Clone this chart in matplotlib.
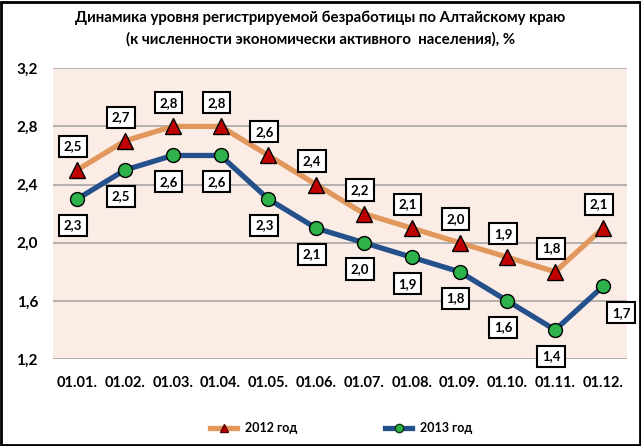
import numpy as np
import matplotlib
matplotlib.use('Agg')
import matplotlib.pyplot as plt
from matplotlib.patches import Rectangle
from matplotlib.lines import Line2D

plt.rcParams['font.family'] = ['Lato', 'Noto Sans', 'DejaVu Sans']

months = ['01.01.', '01.02.', '01.03.', '01.04.', '01.05.', '01.06.',
          '01.07.', '01.08.', '01.09.', '01.10.', '01.11.', '01.12.']
y2012 = [2.5, 2.7, 2.8, 2.8, 2.6, 2.4, 2.2, 2.1, 2.0, 1.9, 1.8, 2.1]
y2013 = [2.3, 2.5, 2.6, 2.6, 2.3, 2.1, 2.0, 1.9, 1.8, 1.6, 1.4, 1.7]
yticks = [1.2, 1.6, 2.0, 2.4, 2.8, 3.2]
title = ('Динамика уровня регистрируемой безработицы по Алтайскому краю\n'
         '(к численности экономически активного  населения), %')


def fmt(v):
    return f'{v:.1f}'.replace('.', ',')


fig = plt.figure(figsize=(6.41, 4.46), dpi=100)
ax = fig.add_axes([0.083, 0.195, 0.895, 0.652])
ax.set_facecolor('#FBEDE6')

x = np.arange(len(months))
series = [
    (y2012, '#E2975C', '^', 11, '#C00000', '2012 год', 17),
    (y2013, '#24508C', 'o', 10, '#2DB34A', '2013 год', -19),
]
for ys, lc, mk, ms, mc, lab, dy in series:
    ax.plot(x, ys, color=lc, lw=3.8, solid_joinstyle='round', solid_capstyle='round',
            marker=mk, ms=ms, mfc=mc, mec='black', mew=1.0, zorder=3)
    for i, v in enumerate(ys):
        ox, oy = -3, dy
        if lab == '2013 год' and i == len(ys) - 1:
            ox, oy = 13, -19
        ax.annotate(fmt(v), (i, v), xytext=(ox, oy), textcoords='offset points',
                    ha='center', va='center', fontsize=9.5, fontweight='bold',
                    bbox=dict(boxstyle='square,pad=0.35', fc='white', ec='black', lw=1.5),
                    zorder=5)

ax.set_xlim(-0.5, len(months) - 0.5)
ax.set_ylim(1.2, 3.2)
ax.set_yticks(yticks)
ax.set_yticklabels([fmt(v) for v in yticks], fontsize=11, fontweight='bold')
ax.set_xticks(x)
ax.set_xticklabels(months, fontsize=10.5, fontweight='bold')
ax.tick_params(length=0, pad=12)
ax.tick_params(axis='y', pad=11)
ax.grid(axis='y', color='#A6A6A6', lw=1.2)
ax.set_axisbelow(True)
for s in ax.spines.values():
    s.set_visible(False)

fig.suptitle(title, fontsize=10.8, fontweight='bold', y=0.975, linespacing=1.6)

handles = [
    Line2D([], [], color='#E2975C', lw=3.8, marker='^', ms=6, mfc='#C00000', mec='#5A0000'),
    Line2D([], [], color='#24508C', lw=3.8, marker='o', ms=6, mfc='#2DB34A', mec='#0A3A0A'),
]
fig.legend(handles, ['2012 год', '2013 год'], loc='center', bbox_to_anchor=(0.532, 0.04),
           ncol=2, frameon=False, handlelength=2.2, handletextpad=0.6, columnspacing=7,
           prop=dict(size=9, weight='bold'))

fig.add_artist(Rectangle((0.002, 0.002), 0.996, 0.994, transform=fig.transFigure,
                         fill=False, ec='black', lw=2))
fig.savefig('out.png', dpi=100)
